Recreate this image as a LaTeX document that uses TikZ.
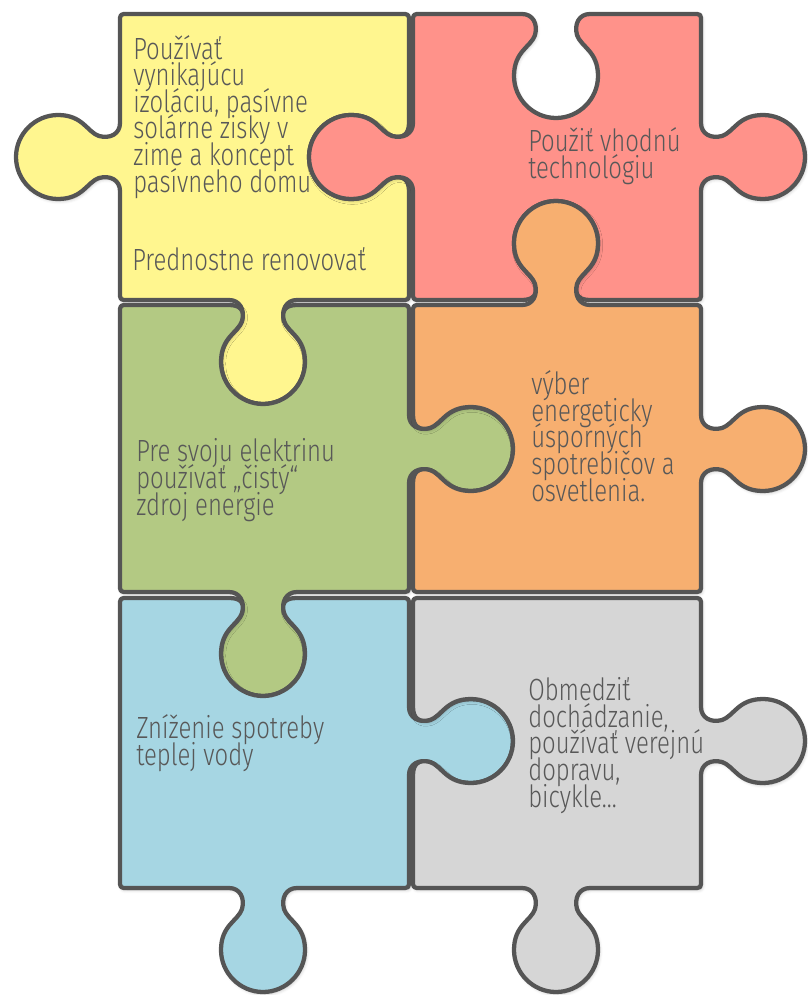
\documentclass[tikz,border=0pt]{standalone}
\usepackage{fontspec}
\setmainfont{Fira Sans}[UprightFont={* Light},FakeStretch=0.78]
\usetikzlibrary{shadows.blur}

\definecolor{pzyellow}{RGB}{255,246,143}
\definecolor{pzred}{RGB}{255,146,138}
\definecolor{pzgreen}{RGB}{179,201,131}
\definecolor{pzorange}{RGB}{247,175,112}
\definecolor{pzblue}{RGB}{166,214,227}
\definecolor{pzgray}{RGB}{214,214,214}
\definecolor{pzline}{RGB}{85,85,85}
\definecolor{pztext}{RGB}{88,88,88}

% tight leading for the piece texts
\newcommand\pztight{\lineskiplimit=-30pt\relax}

% column and row edges (px)
\newcommand\cLa{120}
\newcommand\cRa{409}
\newcommand\cLb{413}
\newcommand\cRb{701}
\newcommand\rTa{14}
\newcommand\rBa{300}
\newcommand\rTb{305}
\newcommand\rBb{592}
\newcommand\rTc{598}
\newcommand\rBc{888}

% tab on a horizontal edge: centre x, own edge y, travel (1 right,-1 left), bulge (1 down,-1 up), base edge y
\newcommand\htab[5]{%
 -- ({#1-(#3)*34},{#2})
 .. controls ({#1-(#3)*23},{#2}) and ({#1-(#3)*18},{#5+(#4)*10}) .. ({#1-(#3)*21},{#5+(#4)*21})
 .. controls ({#1-(#3)*25},{#5+(#4)*33}) and ({#1-(#3)*42},{#5+(#4)*37}) .. ({#1-(#3)*42},{#5+(#4)*62})
 .. controls ({#1-(#3)*42},{#5+(#4)*85}) and ({#1-(#3)*23},{#5+(#4)*104}) .. ({#1},{#5+(#4)*104})
 .. controls ({#1+(#3)*23},{#5+(#4)*104}) and ({#1+(#3)*42},{#5+(#4)*85}) .. ({#1+(#3)*42},{#5+(#4)*62})
 .. controls ({#1+(#3)*42},{#5+(#4)*37}) and ({#1+(#3)*25},{#5+(#4)*33}) .. ({#1+(#3)*21},{#5+(#4)*21})
 .. controls ({#1+(#3)*18},{#5+(#4)*10}) and ({#1+(#3)*23},{#2}) .. ({#1+(#3)*34},{#2})}
% tab on a vertical edge: centre y, own edge x, travel (1 down,-1 up), bulge (1 right,-1 left), base edge x
\newcommand\vtab[5]{%
 -- ({#2},{#1-(#3)*34})
 .. controls ({#2},{#1-(#3)*23}) and ({#5+(#4)*10},{#1-(#3)*18}) .. ({#5+(#4)*21},{#1-(#3)*21})
 .. controls ({#5+(#4)*33},{#1-(#3)*25}) and ({#5+(#4)*37},{#1-(#3)*42}) .. ({#5+(#4)*62},{#1-(#3)*42})
 .. controls ({#5+(#4)*85},{#1-(#3)*42}) and ({#5+(#4)*104},{#1-(#3)*23}) .. ({#5+(#4)*104},{#1})
 .. controls ({#5+(#4)*104},{#1+(#3)*23}) and ({#5+(#4)*85},{#1+(#3)*42}) .. ({#5+(#4)*62},{#1+(#3)*42})
 .. controls ({#5+(#4)*37},{#1+(#3)*42}) and ({#5+(#4)*33},{#1+(#3)*25}) .. ({#5+(#4)*21},{#1+(#3)*21})
 .. controls ({#5+(#4)*10},{#1+(#3)*18}) and ({#2},{#1+(#3)*23}) .. ({#2},{#1+(#3)*34})}

\begin{document}
\begin{tikzpicture}[x=0.75pt,y=-0.75pt,
    piece/.style={draw=pzline,line width=3.2pt,line join=round,
      blur shadow={shadow xshift=1pt,shadow yshift=-1.5pt,shadow blur radius=2.5pt,shadow opacity=25}},
    txt/.style={text=pztext,align=left,anchor=base west,inner sep=0pt,
      font=\fontsize{23}{19.9}\selectfont\pztight}]
\useasboundingbox (0,0) rectangle (807,995);

%Shape: piece top left
\draw[piece,fill=pzyellow] (\cLa+8,\rTa) -- (\cRa-8,\rTa) .. controls (\cRa,\rTa) .. (\cRa,\rTa+8)
  \vtab{157}{\cRa}{1}{-1}{\cLb} -- (\cRa,\rBa-8) .. controls (\cRa,\rBa) .. (\cRa-8,\rBa)
  \htab{263}{\rBa}{-1}{1}{\rBa} -- (\cLa+8,\rBa) .. controls (\cLa,\rBa) .. (\cLa,\rBa-8)
  \vtab{157}{\cLa}{-1}{-1}{\cLa} -- (\cLa,\rTa+8) .. controls (\cLa,\rTa) .. (\cLa+8,\rTa) -- cycle;
%Shape: piece top right
\draw[piece,fill=pzred] (\cLb+8,\rTa) \htab{556}{\rTa}{1}{1}{\rTa} -- (\cRb-8,\rTa) .. controls (\cRb,\rTa) .. (\cRb,\rTa+8)
  \vtab{157}{\cRb}{1}{1}{\cRb} -- (\cRb,\rBa-8) .. controls (\cRb,\rBa) .. (\cRb-8,\rBa)
  \htab{556}{\rBa}{-1}{-1}{\rTb} -- (\cLb+8,\rBa) .. controls (\cLb,\rBa) .. (\cLb,\rBa-8)
  \vtab{157}{\cLb}{-1}{-1}{\cLb} -- (\cLb,\rTa+8) .. controls (\cLb,\rTa) .. (\cLb+8,\rTa) -- cycle;
%Shape: piece middle left
\draw[piece,fill=pzgreen] (\cLa+8,\rTb) \htab{263}{\rTb}{1}{1}{\rBa} -- (\cRa-8,\rTb) .. controls (\cRa,\rTb) .. (\cRa,\rTb+8)
  \vtab{449}{\cRa}{1}{1}{\cRa} -- (\cRa,\rBb-8) .. controls (\cRa,\rBb) .. (\cRa-8,\rBb)
  \htab{263}{\rBb}{-1}{1}{\rBb} -- (\cLa+8,\rBb) .. controls (\cLa,\rBb) .. (\cLa,\rBb-8)
  -- (\cLa,\rTb+8) .. controls (\cLa,\rTb) .. (\cLa+8,\rTb) -- cycle;
%Shape: piece middle right
\draw[piece,fill=pzorange] (\cLb+8,\rTb) \htab{556}{\rTb}{1}{-1}{\rTb} -- (\cRb-8,\rTb) .. controls (\cRb,\rTb) .. (\cRb,\rTb+8)
  \vtab{449}{\cRb}{1}{1}{\cRb} -- (\cRb,\rBb-8) .. controls (\cRb,\rBb) .. (\cRb-8,\rBb)
  -- (\cLb+8,\rBb) .. controls (\cLb,\rBb) .. (\cLb,\rBb-8)
  \vtab{449}{\cLb}{-1}{1}{\cRa} -- (\cLb,\rTb+8) .. controls (\cLb,\rTb) .. (\cLb+8,\rTb) -- cycle;
%Shape: piece bottom left
\draw[piece,fill=pzblue] (\cLa+8,\rTc) \htab{263}{\rTc}{1}{1}{\rBb} -- (\cRa-8,\rTc) .. controls (\cRa,\rTc) .. (\cRa,\rTc+8)
  \vtab{741}{\cRa}{1}{1}{\cRa} -- (\cRa,\rBc-8) .. controls (\cRa,\rBc) .. (\cRa-8,\rBc)
  \htab{263}{\rBc}{-1}{1}{\rBc} -- (\cLa+8,\rBc) .. controls (\cLa,\rBc) .. (\cLa,\rBc-8)
  -- (\cLa,\rTc+8) .. controls (\cLa,\rTc) .. (\cLa+8,\rTc) -- cycle;
%Shape: piece bottom right
\draw[piece,fill=pzgray] (\cLb+8,\rTc) -- (\cRb-8,\rTc) .. controls (\cRb,\rTc) .. (\cRb,\rTc+8)
  \vtab{741}{\cRb}{1}{1}{\cRb} -- (\cRb,\rBc-8) .. controls (\cRb,\rBc) .. (\cRb-8,\rBc)
  \htab{556}{\rBc}{-1}{1}{\rBc} -- (\cLb+8,\rBc) .. controls (\cLb,\rBc) .. (\cLb,\rBc-8)
  \vtab{741}{\cLb}{-1}{1}{\cRa} -- (\cLb,\rTc+8) .. controls (\cLb,\rTc) .. (\cLb+8,\rTc) -- cycle;

% Text Node
\node[txt] (insul) at (133,192) {Používať\\vynikajúcu\\izoláciu, pasívne\\solárne zisky v\\zime a koncept\\pasívneho domu};
% Text Node
\node[txt] (renov) at (132,270) {Prednostne renovovať};
% Text Node
\node[txt] (techn) at (528,178) {Použiť vhodnú\\technológiu};
% Text Node
\node[txt] (elec) at (136,515) {Pre svoju elektrinu\\používať „čistý“\\zdroj energie};
% Text Node
\node[txt] (appl) at (531,501) {výber\\energeticky\\úsporných\\spotrebičov a\\osvetlenia.};
% Text Node
\node[txt] (water) at (136,765) {Zníženie spotreby\\teplej vody};
% Text Node
\node[txt] (trans) at (528,807) {Obmedziť\\dochádzanie,\\používať verejnú\\dopravu,\\bicykle...};
\end{tikzpicture}
\end{document}
